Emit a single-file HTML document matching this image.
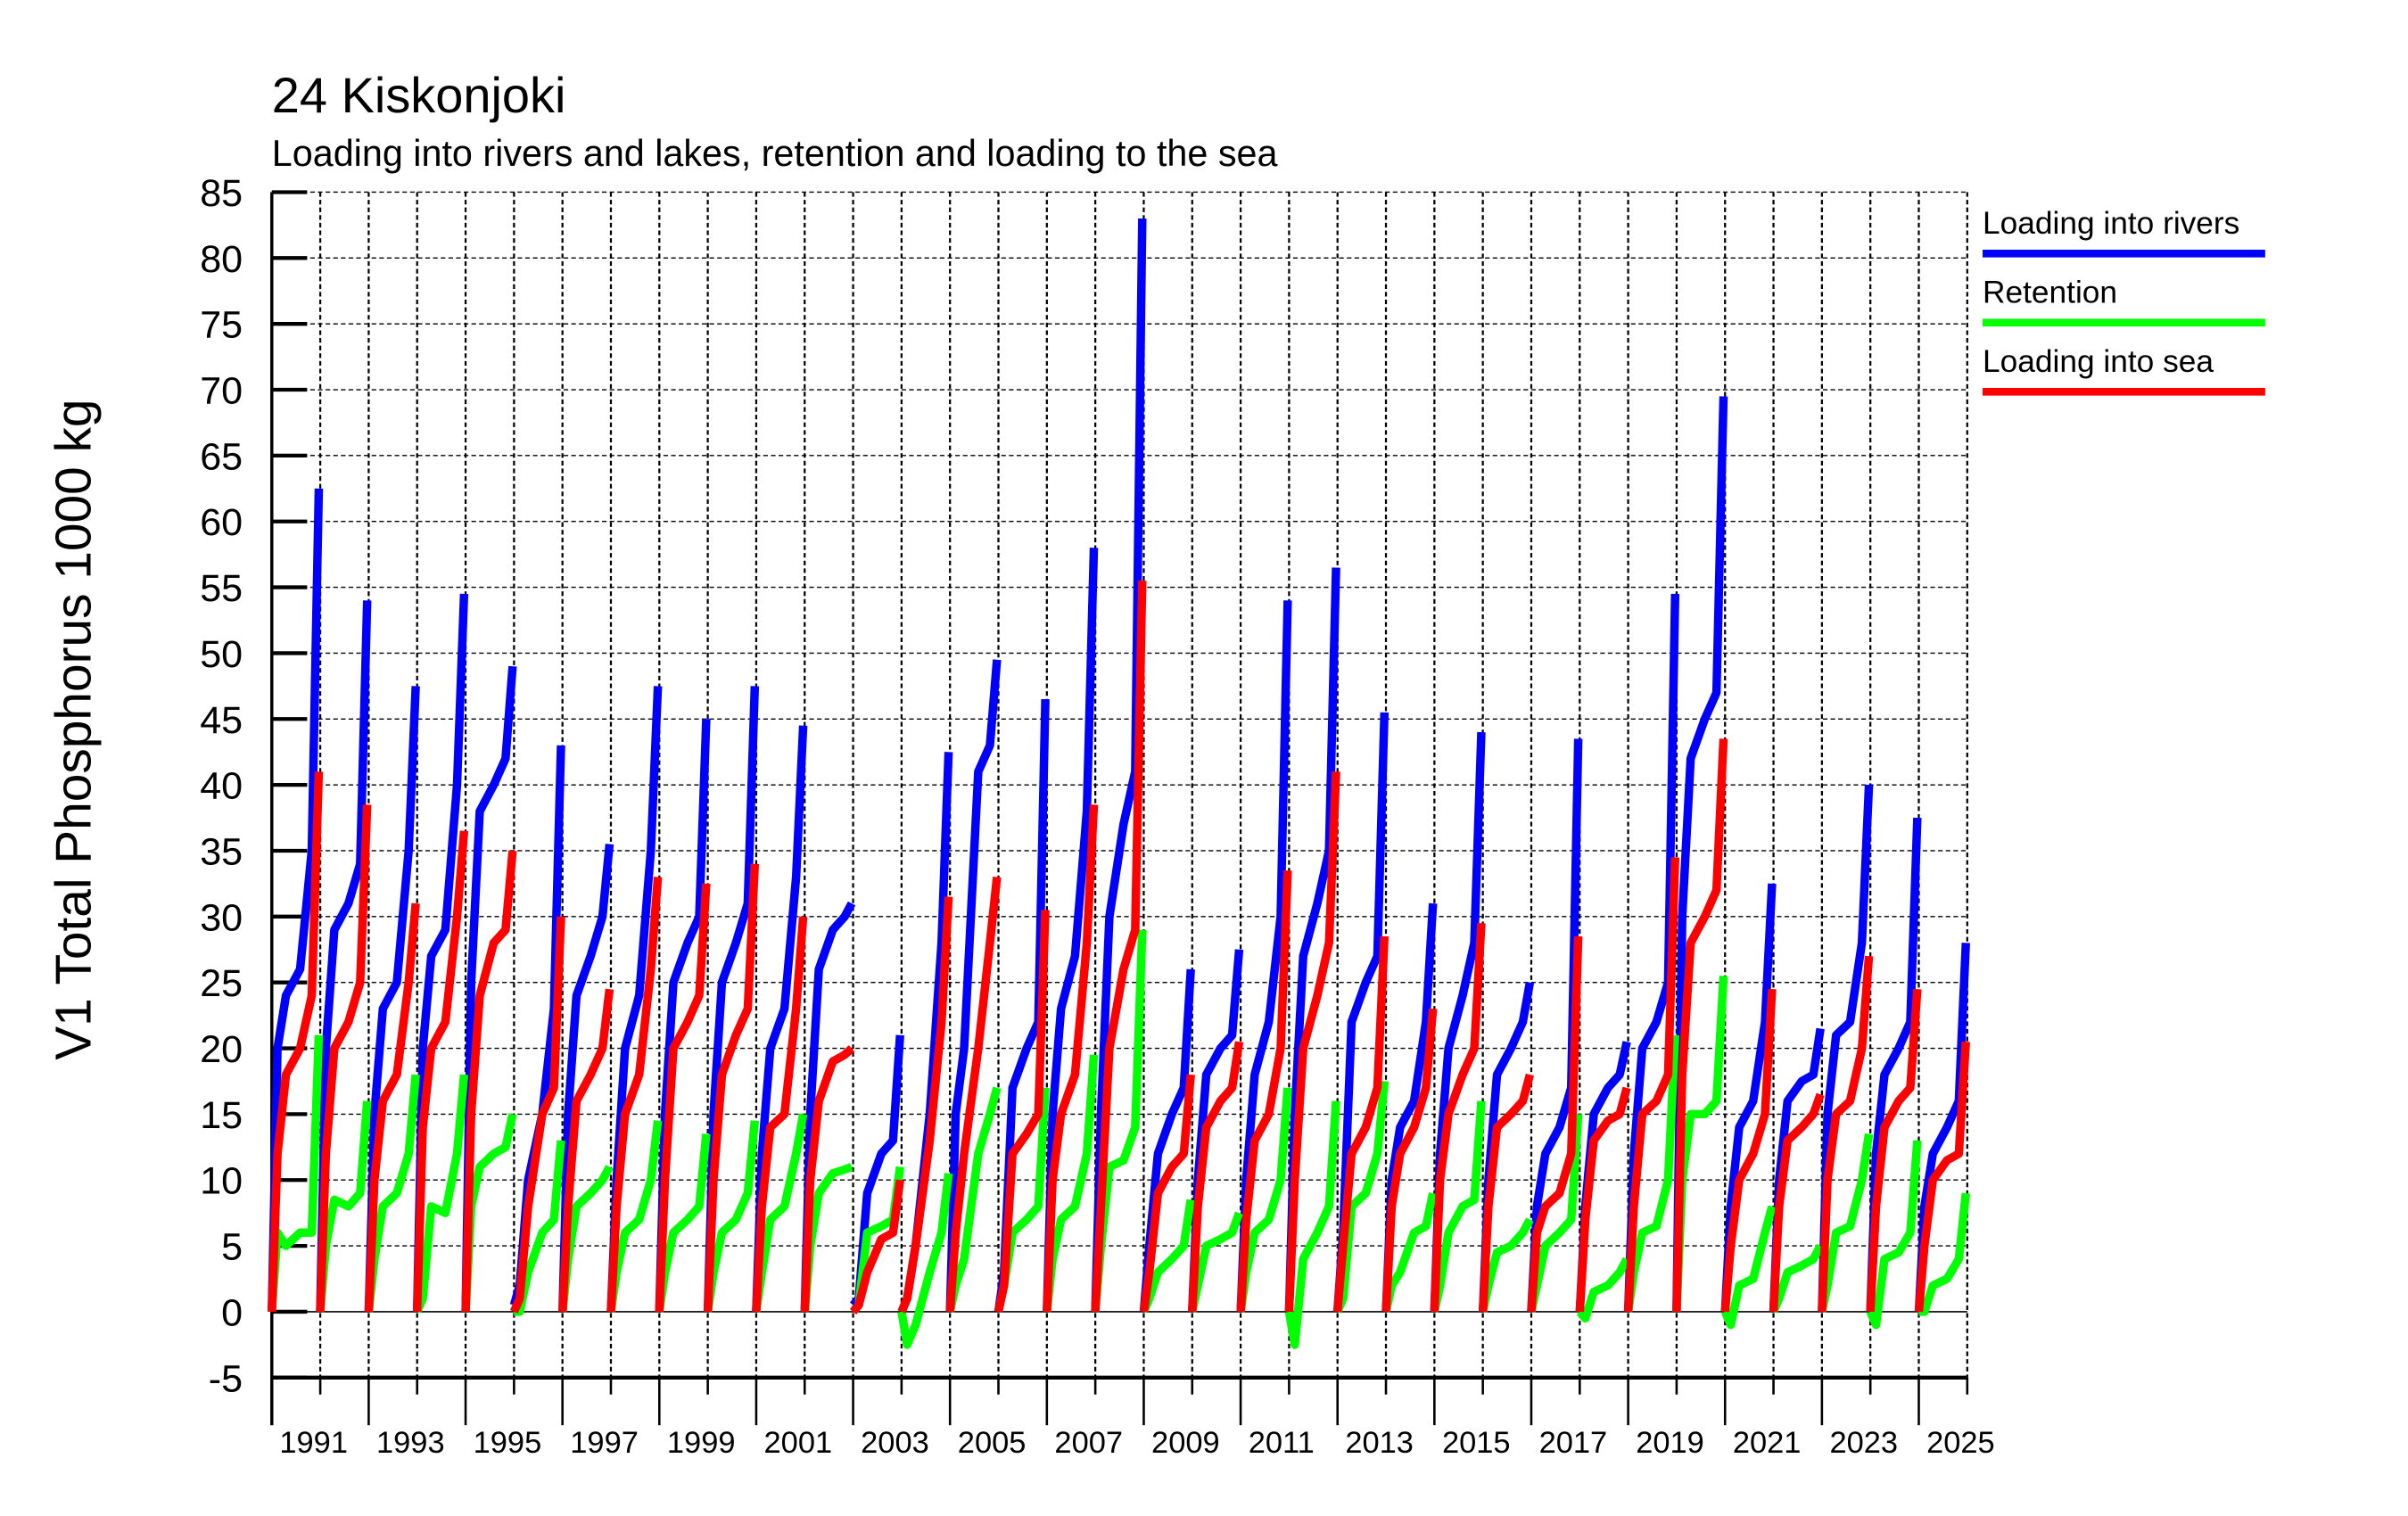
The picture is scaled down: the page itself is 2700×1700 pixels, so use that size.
<!DOCTYPE html>
<html><head><meta charset="utf-8"><style>
html,body{margin:0;padding:0;background:#fff;}
svg{display:block;font-family:"Liberation Sans",Arial,sans-serif;}
</style></head><body>
<svg id="chart" width="2700" height="1700" viewBox="0 0 1568 987" xmlns="http://www.w3.org/2000/svg">
<rect width="1568" height="987" fill="#fff"/>
<text x="177" y="73" font-size="32.5">24 Kiskonjoki</text>
<text x="177" y="108" font-size="24">Loading into rivers and lakes, retention and loading to the sea</text>
<text transform="translate(59,475) rotate(-90)" text-anchor="middle" font-size="33">V1 Total Phosphorus 1000 kg</text>
<g id="grid"></g><g id="axes"></g><g id="series"></g>
<g>
<text x="1291" y="152" font-size="20.5">Loading into rivers</text>
<line x1="1291" x2="1475" y1="165" y2="165" stroke="#0000ff" stroke-width="5"/>
<text x="1291" y="197" font-size="20.5">Retention</text>
<line x1="1291" x2="1475" y1="210" y2="210" stroke="#00ff00" stroke-width="5"/>
<text x="1291" y="242" font-size="20.5">Loading into sea</text>
<line x1="1291" x2="1475" y1="255" y2="255" stroke="#ff0000" stroke-width="5"/>
</g>
</svg>
<script>
const years = [1990,1991,1992,1993,1994,1995,1996,1997,1998,1999,2000,2001,2002,2003,2004,2005,2006,2007,2008,2009,2010,2011,2012,2013,2014,2015,2016,2017,2018,2019,2020,2021,2022,2023,2024];
const yearFractions = [0,0.12,0.3,0.6,0.85,1];
const riversLoad = [
[0,20,24,26,35,62.5],[0,20,29,31,34,54],[0,15,23,25,35,47.5],[0,20,27,29,40,54.5],[0,25,38,40,42,49],
[0.5,2,10,15,23,43],[0,15,24,27,30,35.5],[0,10,20,24,35,47.5],[0,15,25,28,30,45],[0,15,25,28,31,47.5],
[0,12,20,23,33,44.5],[0,15,26,29,30,31],[0.5,1,9,12,13,21],[0,1,5,15,28,42.5],[0,15,20,41,43,49.5],
[0,3,17,20,22,46.5],[0,15,23,27,38,58],[0,15,30,37,41,83],[0,5,12,15,17,26],[0,10,18,20,21,27.5],
[0,10,18,22,30,54],[0,15,27,31,35,56.5],[0,6,22,25,27,45.5],[0,10,14,16,22,31],[0,12,20,24,28,44],
[0,10,18,20,22,25],[0,8,12,14,17,43.5],[0,8,15,17,18,20.5],[0,12,20,22,25,54.5],[0,30,42,45,47,69.5],
[0,8,14,16,22,32.5],[0,10,16,17.5,18,21.5],[0,15,21,22,28,40],[0,12,18,20,22,37.5],[0,8,12,14,16,28]];
const seaLoad = [
[0,12,18,20,24,41],[0,12,20,22,25,38.5],[0,10,16,18,25,31],[0,14,20,22,30,36.5],[0,15,24,28,29,35],
[0,1,8,15,17,30],[0,8,16,18,20,24.5],[0,8,15,18,26,33],[0,10,20,22,24,32.5],[0,10,18,21,23,34],
[0,8,14,15,23,30],[0,10,16,19,19.5,20],[0,0.5,3,5.5,6,10],[0,1,5,13,22,31.5],[0,6,12,20,28,33],
[0,2,12,13.5,15,30.5],[0,10,15,18,28,38.5],[0,8,20,26,29,55.5],[0,3,9,11,12,18],[0,8,14,16,17,20.5],
[0,7,13,15,20,33.5],[0,10,20,24,28,41],[0,5,12,14,17,28.5],[0,8,12,14,17,23],[0,10,15,18,20,29.5],
[0,8,14,15,16,18],[0,6,8,9,12,28.5],[0,7,13,14.5,15,17],[0,8,15,16,18,34.5],[0,18,28,30,32,43.5],
[0,5,10,12,15,24.5],[0,8,13,14,15,16.5],[0,10,15,16,20,27],[0,8,14,16,17,24.5],[0,5,10,11.5,12,20.5]];
const retention = [
[0,6,5,6,6,21],[0,5,8.5,8,9,16],[0,4,8,9,12,18],[0,1,8,7.5,12,18],[0,8,11,12,12.5,15],
[0,0,3,6,7,13],[0,4,8,9,10,11],[0,3,6,7,10,14.5],[0,3,6,7,8,13.5],[0,3,6,7,9,14.5],
[0,3,7,8,12,15],[0,5,9,10.5,10.8,11],[0,0.5,6,6.5,7,11],[0,-2.5,-1,3,6,10.5],[0,2,4,12,15,17],
[0,2,6,7,8,17],[0,4,7,8,12,19.5],[0,5,11,11.5,14,29],[0,1,3,4,5,8.5],[0,2,5,5.5,6,7.5],
[0,3,6,7,10,17],[0,-2.5,4,6,8,16],[0,1,8,9,12,17.5],[0,2,3,6,6.5,9],[0,2,6,8,8.5,16],
[0,2,4.5,5,6,7],[0,2,5,6,7,15],[0,-0.5,1.5,2,3,4],[0,3,6,6.5,10,21],[0,10,15,15,16,25.5],
[0,-1,2,2.5,6,8],[0,1,3,3.5,4,5],[0,2,6,6.5,10,13.5],[0,-1,4,4.5,6,13],[0,0,2,2.5,4,9]];
const yTicks = [85,80,75,70,65,60,55,50,45,40,35,30,25,20,15,10,5,0,-5];
const xLabelYears = [1991,1993,1995,1997,1999,2001,2003,2005,2007,2009,2011,2013,2015,2017,2019,2021,2023,2025];

const NS='http://www.w3.org/2000/svg';
const X0=177,X1=1281,Y85=125,Ym5=897;
const xs = v => X0 + (v-1990)*(X1-X0)/35;
const ys = v => Ym5 - (v+5)*(Ym5-Y85)/90;
function mk(tag,attrs,parent){const e=document.createElementNS(NS,tag);for(const k in attrs)e.setAttribute(k,attrs[k]);parent.appendChild(e);return e;}
const grid=document.getElementById('grid'), axes=document.getElementById('axes'), series=document.getElementById('series');

for(const t of yTicks){
  if(t>-5){
    const l=mk('line',{x1:X0,x2:X1,y1:ys(t),y2:ys(t),stroke:'#000','stroke-width':t===0?1:0.8,'stroke-dasharray':t===0?'none':'3,2'},grid);
    
    
  }
  const tk=mk('line',{x1:X0,x2:X0+23,y1:ys(t),y2:ys(t),stroke:'#000','stroke-width':2.5},axes);
  
  
  const tx=mk('text',{x:158,y:ys(t)+9,'text-anchor':'end','font-size':25},axes);
  tx.textContent=t;
  
  
}
for(let yr=1991;yr<=2025;yr++){
  const g=mk('line',{x1:xs(yr),x2:xs(yr),y1:Y85,y2:Ym5,stroke:'#000','stroke-width':1.3,'stroke-dasharray':'3,2'},grid);
  
  
}
for(let yr=1990;yr<=2025;yr++){
  const long=(yr%2===0);
  const t=mk('line',{x1:xs(yr),x2:xs(yr),y1:Ym5,y2:long?928:908,stroke:'#000','stroke-width':1.5},axes);
  
  
}
const ya=mk('line',{x1:X0,x2:X0,y1:Y85,y2:928,stroke:'#000','stroke-width':2},axes);


const xa=mk('line',{x1:X0,x2:X1,y1:Ym5,y2:Ym5,stroke:'#000','stroke-width':2.5},axes);


for(const yr of xLabelYears){
  const tx=mk('text',{x:xs(yr-1)+5,y:946,'font-size':20},axes);
  tx.textContent=yr;
  
  
}
function drawSeries(arr,color,name){
  years.forEach((yr,i)=>{
    const pts=arr[i].map((v,j)=>xs(yr+yearFractions[j]*0.97).toFixed(1)+','+ys(v).toFixed(1)).join(' ');
    const p=mk('polyline',{points:pts,fill:'none',stroke:color,'stroke-width':5.5,'stroke-linejoin':'round'},series);
    
    
  });
}
drawSeries(riversLoad,'#0000ff','rivers-line');
drawSeries(retention,'#00ff00','retention-line');
drawSeries(seaLoad,'#ff0000','sea-line');
</script>
</body></html>
